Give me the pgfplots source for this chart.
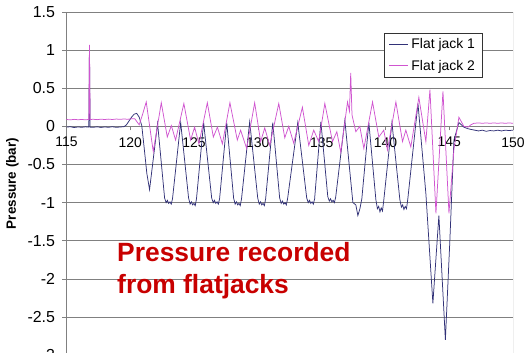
\documentclass[border=0pt]{standalone}
\usepackage{fontspec}
\setmainfont{Liberation Sans}
\usepackage{pgfplots}
\pgfplotsset{compat=1.18}
\definecolor{jackA}{RGB}{50,50,120}
\definecolor{jackB}{RGB}{208,85,208}
\definecolor{redtxt}{RGB}{200,0,0}
\definecolor{gridgray}{RGB}{128,128,128}

\begin{document}
\begin{tikzpicture}
\begin{axis}[
 name=ax,
 scale only axis,
 width=446.5bp, height=343.1bp,
 xmin=115, xmax=150, ymin=-3, ymax=1.5,
 axis x line=middle, axis y line=left,
 axis line style={-, draw=gridgray, line width=0.6bp},
 hide obscured x ticks=false, hide obscured y ticks=false,
 xtick={115,120,...,150}, ytick={-3,-2.5,...,1.5},
 tick align=outside,
 major tick length=4bp,
 tick style={draw=gridgray, line width=0.6bp},
 ymajorgrids, grid style={draw=gridgray, line width=0.6bp},
 /pgf/number format/assume math mode=true,
 xticklabel style={font=\fontsize{14}{16}\selectfont, yshift=-3.5bp},
 yticklabel style={font=\fontsize{16}{18}\selectfont, xshift=-4bp},
 ylabel={Pressure (bar)},
 every axis y label/.style={at={(axis description cs:-0.1209,0.5)}, rotate=90, anchor=center, font=\bfseries\fontsize{13.5}{16}\selectfont},
 legend style={at={(0.712,0.9395)}, anchor=north west, draw=black!80, fill=white, font=\fontsize{14}{16}\selectfont, inner xsep=4bp, inner ysep=2.5bp, row sep=4bp, nodes={inner sep=3bp}},
 legend cell align=left,
 legend image code/.code={\draw[#1, line width=0.8bp] (0bp,0bp) -- (19bp,0bp);},
]
\addplot[jackA, line width=0.75bp] coordinates {
(115.0,-0.01)(115.3,-0.005)(115.6,-0.015)(115.9,-0.008)(116.2,-0.012)(116.5,-0.006)(116.75,-0.01)(116.8,1.05)(116.85,-0.01)(117.1,-0.012)(117.4,-0.006)(117.7,-0.014)(118.0,-0.008)(118.3,-0.012)(118.6,-0.005)(118.9,-0.013)(119.2,-0.008)(119.5,-0.005)(119.7,0.02)(119.9,0.07)(120.1,0.12)(120.3,0.16)(120.5,0.17)(120.7,0.12)(120.9,0.01)(121.1,-0.3)(121.3,-0.62)(121.51,-0.83)
(122.14,0.04)
(122.69,-0.94)(122.81,-1.0)(122.91,-0.97)(123.01,-1.01)(123.11,-0.99)(123.21,-1.02)(123.31,-0.95)
(123.95,0.05)
(124.57,-0.94)(124.69,-1.02)(124.79,-0.99)(124.89,-1.03)(124.99,-1.01)(125.09,-1.04)(125.19,-0.95)
(125.75,0.05)
(126.38,-0.94)(126.50,-1.0)(126.60,-0.97)(126.70,-1.01)(126.80,-0.99)(126.90,-1.02)(127.00,-0.95)
(127.56,0.05)
(128.10,-0.94)(128.22,-1.02)(128.32,-0.99)(128.42,-1.03)(128.52,-1.01)(128.62,-1.04)(128.72,-0.95)
(129.36,0.06)
(129.99,-0.94)(130.11,-1.02)(130.21,-0.99)(130.31,-1.03)(130.41,-1.01)(130.51,-1.04)(130.61,-0.95)
(131.17,0.05)
(131.71,-0.94)(131.83,-1.01)(131.93,-0.98)(132.03,-1.02)(132.13,-1.0)(132.23,-1.03)(132.33,-0.95)
(133.13,0.05)
(133.83,-0.94)(133.95,-1.0)(134.05,-0.97)(134.15,-1.01)(134.25,-0.99)(134.35,-1.02)(134.45,-0.95)
(134.94,0.06)
(135.48,-0.92)(135.60,-0.98)(135.70,-0.95)(135.80,-0.99)(135.90,-0.97)(136.00,-1.0)(136.10,-0.93)
(136.82,0.08)
(137.29,-0.73)(137.45,-1.0)(137.68,-1.03)(137.84,-1.17)(138.0,-1.08)(138.15,-0.95)
(138.70,0.05)
(139.25,-0.96)(139.37,-1.08)(139.47,-1.05)(139.57,-1.12)(139.67,-1.07)(139.77,-1.11)(139.87,-0.97)
(140.51,0.05)
(141.13,-0.96)(141.25,-1.06)(141.35,-1.03)(141.45,-1.09)(141.55,-1.05)(141.65,-1.08)(141.75,-0.96)
(142.55,0.30)
(143.17,-0.88)(143.72,-2.32)(144.19,-1.17)(144.70,-2.80)(145.05,-1.5)(145.37,-0.18)(145.76,0.05)(146.15,-0.01)(146.45,-0.03)(146.70,-0.04)(147.0,-0.05)(147.3,-0.06)(147.6,-0.05)(147.9,-0.065)(148.2,-0.055)(148.5,-0.06)(148.8,-0.05)(149.1,-0.06)(149.4,-0.05)(149.7,-0.055)(150.0,-0.05)
};
\addlegendentry{Flat jack 1}
\addplot[jackB, line width=0.75bp] coordinates {
(115.0,0.09)(115.3,0.085)(115.6,0.092)(115.9,0.087)(116.2,0.09)(116.5,0.086)(116.75,0.09)(116.8,1.07)(116.85,0.09)(117.1,0.093)(117.4,0.088)(117.7,0.094)(118.0,0.09)(118.3,0.095)(118.6,0.09)(118.9,0.096)(119.2,0.092)(119.5,0.097)(119.8,0.093)(120.1,0.1)(120.35,0.1)(120.7,0.02)(120.95,0.15)(121.25,0.32)(121.80,-0.33)(122.43,0.31)(122.90,-0.14)(123.22,0.01)(123.55,-0.18)(124.20,0.30)(124.73,-0.18)(125.04,-0.01)(125.38,-0.23)(126.04,0.31)(126.51,-0.14)(126.83,-0.01)(127.22,-0.23)(127.81,0.31)(128.39,-0.18)(128.65,-0.05)(129.12,-0.29)(129.75,0.31)(130.22,-0.2)(130.54,-0.02)(130.93,-0.25)(131.64,0.30)(132.11,-0.15)(132.42,0.0)(132.81,-0.22)(133.49,0.25)(133.99,-0.25)(134.38,-0.05)(134.77,-0.2)(135.25,0.30)(135.85,-0.2)(136.19,-0.07)(136.50,-0.34)(137.03,0.32)(137.18,0.2)(137.28,0.70)(137.38,0.15)(137.68,-0.07)(137.99,0.0)(138.31,-0.29)(138.99,0.32)(139.48,-0.14)(139.87,-0.05)(140.16,-0.31)(140.82,0.32)(141.34,-0.2)(141.60,-0.05)(141.99,-0.27)(142.62,0.38)(143.17,-0.2)(143.49,0.48)(143.96,-1.14)(144.51,0.46)(144.98,-1.14)(145.37,-0.3)(145.76,0.12)(146.15,0.0)(146.47,-0.01)(146.7,0.02)(146.94,0.04)(147.3,0.045)(147.6,0.04)(147.9,0.045)(148.2,0.04)(148.5,0.045)(148.8,0.04)(149.1,0.045)(149.4,0.04)(149.7,0.045)(150.0,0.04)
};
\addlegendentry{Flat jack 2}
\draw[gridgray, line width=0.6bp] (rel axis cs:1,0) -- (rel axis cs:1,1);
\node[anchor=base west, inner sep=0pt, text=redtxt, font=\bfseries\fontsize{26.5}{30}\selectfont] at (axis cs:118.96,-1.778) {Pressure recorded};
\node[anchor=base west, inner sep=0pt, text=redtxt, font=\bfseries\fontsize{26.5}{30}\selectfont] at (axis cs:118.96,-2.198) {from flatjacks};
\end{axis}
\pgfresetboundingbox
\path[use as bounding box] ([shift={(-66.5bp,2.1bp)}]ax.south west) rectangle ([shift={(16bp,12bp)}]ax.north east);
\end{tikzpicture}
\end{document}
